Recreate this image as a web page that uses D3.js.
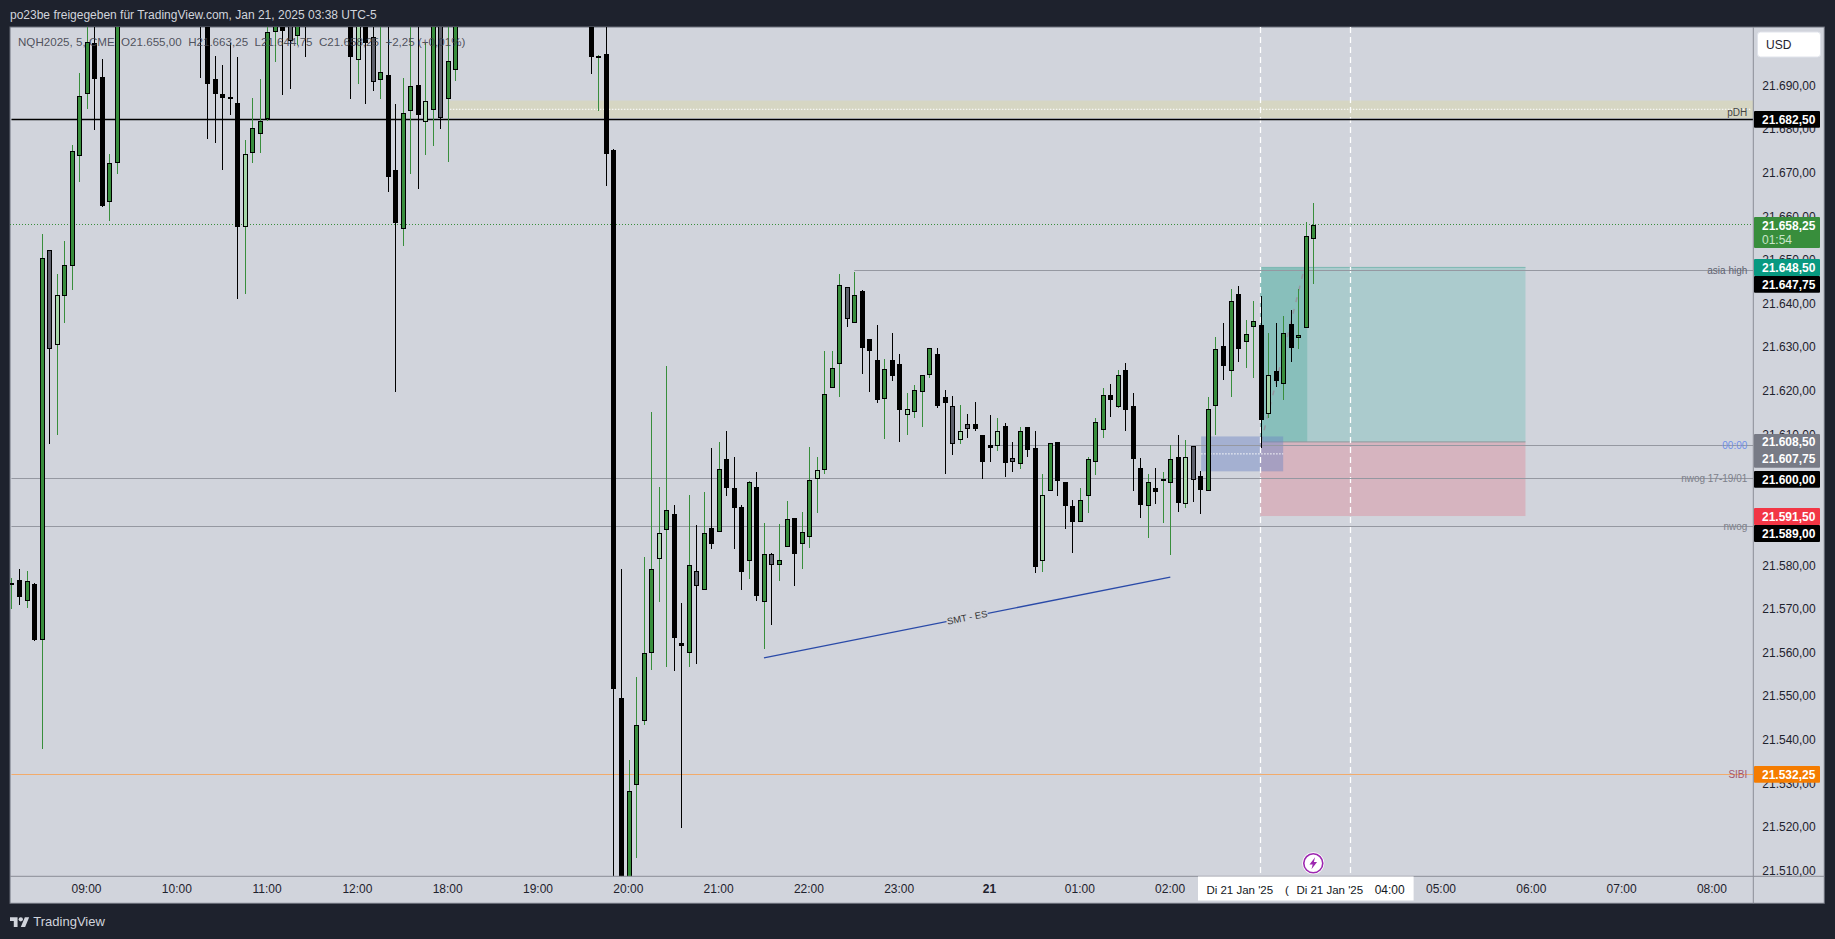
<!DOCTYPE html>
<html><head><meta charset="utf-8">
<script src="https://cdn.jsdelivr.net/npm/d3@7"></script>
<style>
html,body{margin:0;padding:0;background:#1e222d;overflow:hidden}
svg{display:block}
text{font-family:"Liberation Sans",Arial,sans-serif}
</style></head><body>
<svg id="c" width="1835" height="939"></svg>
<script>
// ---------- data: one entry per 5-minute bar, first bar is slot -10; null = bar outside the visible price range
const firstSlot = -10;
const opens = [
21576.25,21576.75,21572,21576,21563,21652.5,21630.75,21642,21648.75,21674,
21688.25,21700,21692.25,21663.5,21672.5,null,null,null,null,null,
null,null,null,null,null,21725,21715,21691.75,21688.25,21687.5,
21686.25,21657.75,21674.75,21679,21682.5,21702.5,21715,21712,21701.5,21722,
null,null,null,null,null,21715,21696,21712,21701.25,21691.5,
21692.5,21670.75,21657.25,21684.25,21690.25,21681.75,21684.5,21712,21687,21693.75,
null,null,null,null,null,null,null,null,null,null,
null,null,null,null,null,null,null,21712,21697,21697.5,
21675.5,21549.75,21500,21529.75,21544.5,21560,21581.75,21588.25,21592,21562.5,
21560,21579,21574.5,21588.75,21587.75,21604.5,21598,21593.5,21581.25,21598.25,
21571.75,21582.75,21580.25,21584.5,21591,21585,21586.75,21600,21602,21620.75,
21626.25,21644,21635.75,21643,21632,21627.25,21618.25,21627.25,21626.25,21614.75,
21615.25,21620,21623.75,21628.75,21618.75,21616.75,21609,21612.5,21612.5,21610,
21607.75,21607.5,21612.25,21604.75,21603.5,21612,21607,21581.25,21597.25,21608.5,
21599.25,21593.75,21590.25,21596,21604,21611.25,21619.25,21616.5,21625,21616.75,
21602.5,21593.75,21598,21599.5,21599,21605,21594.25,21607.5,21600.75,21597.25,
21616.75,21630.5,21624.75,21642.5,21631.5,21634.75,21635.25,21615,21624.75,21621.75,
21635.5,21632.25,21634.5,21655];
const closes = [
21576.25,21573,21576.5,21563,21650.75,21629.75,21642.25,21649,21675.25,21687.75,
21700.25,21691.75,21662.5,21672.5,21715,null,null,null,null,null,
null,null,null,null,null,21706,21690.5,21688.25,21687.25,21687,
21657.75,21674.5,21680.5,21682,21702.5,21712,21702.75,21700.5,21712,21710,
null,null,null,null,null,21696.75,21712,21700,21691,21693.25,
21669.25,21658.75,21684,21690,21683.5,21686.75,21712,21682.75,21695.75,21712,
null,null,null,null,null,null,null,null,null,null,
null,null,null,null,null,null,null,21696.75,21697,21674.5,
21551.75,21500,21528.5,21543.5,21560,21579.25,21587.5,21593,21563.5,21561.75,
21580.25,21575.5,21587.5,21585,21602.25,21598,21593.25,21578.75,21599.25,21573.25,
21582.75,21580.25,21581.5,21590.75,21582.75,21587.75,21599.75,21602,21619.5,21625.5,
21644.5,21636.75,21642.25,21630,21629.25,21618,21625.25,21623.5,21615.75,21616,
21620.5,21623.75,21630,21616.75,21617.5,21608,21611,21611.5,21611.5,21604,
21607,21611,21603.75,21604,21611,21606.75,21579.75,21596.25,21608.25,21599.5,
21593.75,21590.25,21595.25,21604.5,21613,21619.25,21618,21623.75,21615.75,21604.5,
21594,21599.25,21597,21600,21604.5,21594.5,21605,21599.75,21597.5,21616,
21629.75,21626,21640.75,21629.75,21633.25,21636.25,21613.5,21623.75,21622.5,21633.5,
21630,21633,21655.75,21658.25];
const highs = [
21577.25,21579.25,21579,21576.25,21656.25,21652.5,21647,21654.5,21676.5,21693,
21708,21708,21696.25,21674.5,21720,null,null,null,null,null,
null,null,null,null,null,21730,21720,21697,21695,21700,
21696.75,21677.75,21687.25,21691.75,21712,21716,21720,21716,21718,21725,
null,null,null,null,null,21720,21716,21716,21708,21708,
21708,21686,21692,21708,21708,21700,21716,21716,21708,21716,
null,null,null,null,null,null,null,null,null,null,
null,null,null,null,null,null,null,21716,21697.25,21712,
21675.75,21579.25,21535.5,21554.5,21582,21615.25,21598.25,21626,21594,21571.5,
21596.25,21589.5,21597,21607,21608.5,21611,21605,21594,21599.5,21601.5,
21590,21583,21589.75,21595,21591,21592.5,21607.25,21605,21629.25,21629.25,
21647,21644,21647.5,21643.25,21632,21635.25,21627.5,21633.5,21628.75,21619.75,
21621.5,21623.75,21630,21630,21620.5,21619,21617,21615,21617.75,21610,
21614.75,21614,21612.75,21608.5,21612,21612,21611,21601.25,21608.25,21608.5,
21599.25,21595.25,21598,21605,21614,21620.75,21621.75,21625,21626.5,21619.75,
21604.75,21601.25,21602.5,21601.5,21607.75,21610,21609,21607.5,21601.75,21618.75,
21632.5,21635.75,21643.5,21644.25,21636.5,21640.75,21642,21633.5,21635.75,21637.25,
21638.75,21643.5,21659,21663.25];
const lows = [
21570.25,21571,21570.5,21562.75,21538,21608,21610,21635.75,21643.25,21668,
21684.75,21680,21662.25,21659.25,21670,null,null,null,null,null,
null,null,null,null,null,21692,21678,21677,21670.75,21683.5,
21641.25,21642.5,21672.5,21674.75,21682,21695.5,21688,21689.5,21699.5,21696.75,
null,null,null,null,null,21687,21690.5,21686,21689,21687,
21665.75,21620,21653.5,21670,21666.5,21674.25,21676.25,21680.25,21672.75,21691.25,
null,null,null,null,null,null,null,null,null,null,
null,null,null,null,null,null,null,21692.75,21684.25,21667.25,
21500,21495,21495,21513,21543.5,21556.25,21571.75,21557,21556,21520,
21557,21557.5,21574.5,21584,21587.75,21596,21584,21574.5,21577,21572,
21561,21566.5,21576.5,21584.5,21575.5,21579.25,21584.25,21592.25,21601.25,21620.75,
21618.75,21634.75,21635.75,21624,21620,21617.5,21609.25,21622.5,21608.5,21610,
21614,21612,21623.25,21616.25,21601.25,21605.5,21608,21609.5,21611,21600,
21604,21606.5,21600.5,21601.5,21602.25,21605,21578.5,21578.75,21597.25,21596,
21588.5,21583,21590.25,21592.25,21601,21609.5,21614.25,21616.25,21611,21597.25,
21591,21586.5,21594.25,21590,21582.5,21592.5,21593.25,21594.75,21592,21597.25,
21610,21622.75,21618.75,21626.75,21625.5,21623.25,21607,21614,21621,21618,
21626.75,21629.75,21634.5,21644.75];
// g up, l light up, k down, s slate down
const shades = ("gkgkgslggg"+"gkkgg-----"+"-----kkkkk"+"klggggksgk"+"-----klksg"+"kkggklgsgg"+"----------"+"-------kgk"
 +"kkgggglgkk"+"gsgkgkkkgk"+"gsggkgglgg"+"gsgkkkgkkl"+"gggkkslskk"+"klksgkklgk"+"kkggggkgkk"+"kgkggklskg"+"gkgkggklkg"+"kggg").split("");

const priceTicks = [21690,21680,21670,21660,21650,21640,21630,21620,21610,21600,21590,21580,21570,21560,21550,21540,21530,21520,21510];
const timeSlots = [0,12,24,36,48,60,72,84,96,108,120,132,144,156,168,180,192,204,216];
const timeLabels = ["09:00","10:00","11:00","12:00","18:00","19:00","20:00","21:00","22:00","23:00","21","01:00","02:00","03:00","04:00","05:00","06:00","07:00","08:00"];

const levelPrices = [21682.5,21647.75,21607.75,21600,21589,21532.25];
const levelNames  = ["pDH","asia high","00:00","nwog 17-19/01","nwog","SIBI"];
const levelStarts = [-10,102,120,-10,-10,-10];

const zoneYellow = {from:48, top:21686.75, bottom:21682.75};
const blueBox = {from:148.1, to:159, top:21609.75, bottom:21601.75, mid:21605.75};
const position = {from:155.95, lastBar:162.2, to:191.2, target:21648.5, entry:21608.5, stop:21591.5};
const crosshairSlots = [156,168];
const smtSlots = [90,144];
const smtPrices = [21559,21577.5];
const lastPrice = 21658.25;

const tagPrices = [21682.5,21658.25,21648.5,21647.75,21608.5,21607.75,21600,21591.5,21589,21532.25];
const tagFills  = ["#000","#388e3c","#089981","#000","#787b86","#787b86","#000","#f23645","#000","#f57c00"];

// ---------- layout
const L=10, T=27, R=1753.3, B=876.3, RO=1824.3, BO=903.3;
const svg=d3.select("#c");
const x=d3.scaleLinear().domain([0,216]).range([86.7,1712.1]);
const y=d3.scaleLinear().domain([21682.5,21532.25]).range([119.1,774.5]);
const num=d3.formatLocale({decimal:",",thousands:".",grouping:[3],currency:["",""]}).format(",.2f");

svg.append("rect").attr("width",1835).attr("height",939).attr("fill","#1e222d");
svg.append("rect").attr("x",L).attr("y",T).attr("width",RO-L).attr("height",BO-T).attr("fill","#d1d4dc").attr("stroke","#6b6f7a").attr("stroke-width",1);

svg.append("defs").append("clipPath").attr("id","plot").append("rect").attr("x",L).attr("y",T).attr("width",R-L).attr("height",B-T);
const plot=svg.append("g").attr("clip-path","url(#plot)");

// yellow zone
plot.append("rect").attr("x",x(zoneYellow.from)).attr("y",y(zoneYellow.top)).attr("width",R-x(zoneYellow.from)).attr("height",y(zoneYellow.bottom)-y(zoneYellow.top)).attr("fill","#d6d6c3");
plot.append("line").attr("x1",x(zoneYellow.from)+2).attr("x2",R-3).attr("y1",y((zoneYellow.top+zoneYellow.bottom)/2)).attr("y2",y((zoneYellow.top+zoneYellow.bottom)/2)).attr("stroke","#fff").attr("stroke-width",1).attr("stroke-dasharray","1.5 1.5");

// position tool
const P=position;
plot.append("rect").attr("x",x(P.from)).attr("y",y(P.target)).attr("width",x(P.to)-x(P.from)).attr("height",y(P.entry)-y(P.target)).attr("fill","#abcbcd");
plot.append("rect").attr("x",x(P.from)).attr("y",y(P.target)).attr("width",x(P.lastBar)-x(P.from)).attr("height",y(P.entry)-y(P.target)).attr("fill","#88bfbb");
plot.append("rect").attr("x",x(P.from)).attr("y",y(P.entry)).attr("width",x(P.to)-x(P.from)).attr("height",y(P.stop)-y(P.entry)).attr("fill","#d6b4bf");
plot.append("line").attr("x1",x(P.from)).attr("x2",x(P.to)).attr("y1",y(P.entry)).attr("y2",y(P.entry)).attr("stroke","#8a9a9c").attr("stroke-width",1);
plot.append("line").attr("x1",x(P.from)).attr("x2",x(P.to)).attr("y1",y(P.target)).attr("y2",y(P.target)).attr("stroke","#7db8b2").attr("stroke-width",1);
plot.append("line").attr("x1",x(P.from)+1).attr("x2",x(P.lastBar)-3).attr("y1",y(P.entry)).attr("y2",y(P.target)+1).attr("stroke","#9598a1").attr("stroke-width",1.5).attr("stroke-dasharray","5 7");

// blue box
plot.append("rect").attr("x",x(blueBox.from)).attr("y",y(blueBox.top)).attr("width",x(blueBox.to)-x(blueBox.from)).attr("height",y(blueBox.bottom)-y(blueBox.top)).attr("fill","#6c85c4").attr("fill-opacity",.45);
plot.append("line").attr("x1",x(blueBox.from)).attr("x2",x(blueBox.to)).attr("y1",y(blueBox.mid)).attr("y2",y(blueBox.mid)).attr("stroke","#fff").attr("stroke-width",1).attr("stroke-dasharray","1.5 1.5");

// crosshair-like dashed verticals
plot.selectAll(".cross").data(crosshairSlots).join("line").attr("x1",d=>Math.floor(x(d))+.5).attr("x2",d=>Math.floor(x(d))+.5).attr("y1",T).attr("y2",B).attr("stroke","#fff").attr("stroke-width",1.3).attr("stroke-dasharray","6 4");

// last price dotted line
plot.append("line").attr("x1",L).attr("x2",R).attr("y1",Math.floor(y(lastPrice))+.5).attr("y2",Math.floor(y(lastPrice))+.5).attr("stroke","#388e3c").attr("stroke-width",1).attr("stroke-dasharray","1 2");

// level lines
const levelColors=["#000","#9598a1","#9598a1","#9598a1","#9598a1","#f2ab6b"];
levelPrices.forEach((p,i)=>{
  const yy=Math.floor(y(p))+.5;
  plot.append("line").attr("x1",x(levelStarts[i])).attr("x2",R).attr("y1",yy).attr("y2",yy).attr("stroke",levelColors[i]).attr("stroke-width",i==0?1.5:1);
});

// SMT line
plot.append("line").attr("x1",x(smtSlots[0])).attr("y1",y(smtPrices[0])).attr("x2",x(smtSlots[1])).attr("y2",y(smtPrices[1])).attr("stroke","#2a4aa8").attr("stroke-width",1.4);

// candles
const bars=opens.map((o,i)=>({slot:firstSlot+i,o,h:highs[i],l:lows[i],c:closes[i],s:shades[i]})).filter(d=>d.o!==null);
const fillOf={g:"#388e3c",l:"#a5d6a7",k:"#000",s:"#5d606b"};
const wickOf={g:"#388e3c",l:"#388e3c",k:"#000",s:"#000"};
const gb=plot.selectAll(".bar").data(bars).join("g");
gb.append("rect").attr("x",d=>Math.round(x(d.slot))).attr("width",1)
  .attr("y",d=>y(d.h)).attr("height",d=>Math.max(0,y(d.l)-y(d.h))).attr("fill",d=>wickOf[d.s]).attr("shape-rendering","crispEdges");
gb.append("rect").attr("x",d=>Math.round(x(d.slot))-1.5).attr("width",4)
  .attr("y",d=>Math.round(y(Math.max(d.o,d.c)))+.5)
  .attr("height",d=>Math.max(1,Math.round(y(Math.min(d.o,d.c)))-Math.round(y(Math.max(d.o,d.c)))-1))
  .attr("fill",d=>fillOf[d.s]).attr("stroke","#000").attr("stroke-width",1);

// SMT label
const smx=(x(smtSlots[0])+x(smtSlots[1]))/2, smy=(y(smtPrices[0])+y(smtPrices[1]))/2;
const ang=Math.atan2(y(smtPrices[1])-y(smtPrices[0]),x(smtSlots[1])-x(smtSlots[0]))*180/Math.PI;
const sg=plot.append("g").attr("transform",`translate(${smx},${smy}) rotate(${ang})`);
sg.append("rect").attr("x",-21).attr("y",-6).attr("width",42).attr("height",12).attr("fill","#d1d4dc");
sg.append("text").attr("text-anchor","middle").attr("dy",".35em").attr("font-size",9.5).attr("fill","#333").text("SMT - ES");

// level labels
const nameColors=["#444","#5f6370","#6f8fe8","#7d808a","#7d808a","#a5566e"];
levelNames.forEach((n,i)=>{
  const py=y(levelPrices[i])+(i==0?-7:0)+(i==1?-.5:0);
  const t=plot.append("text").attr("x",R-6).attr("y",py).attr("dy",".35em").attr("text-anchor","end").attr("font-size",10).attr("fill",nameColors[i]).text(n);
  if(i>0){const b=t.node().getBBox();t.lower();plot.insert("rect","text").attr("x",b.x-4).attr("y",b.y).attr("width",b.width+8).attr("height",b.height).attr("fill","#d1d4dc");}
});
plot.selectAll("text").raise();

// legend
svg.append("text").attr("x",18).attr("y",41.7).attr("dy",".35em").attr("font-size",11.6).attr("fill","#3e424d").attr("fill-opacity",.9).attr("xml:space","preserve")
  .text("NQH2025, 5, CME  O21.655,00  H21.663,25  L21.644,75  C21.658,25  +2,25 (+0,01%)");

// axes
svg.append("line").attr("x1",R).attr("x2",R).attr("y1",T).attr("y2",BO).attr("stroke","#8a8d96");
svg.append("line").attr("x1",L).attr("x2",RO).attr("y1",B).attr("y2",B).attr("stroke","#8a8d96");
const ay=svg.append("g").attr("transform",`translate(${R},-1)`).call(d3.axisRight(y).tickValues(priceTicks).tickSize(0).tickPadding(9).tickFormat(num));
ay.select(".domain").remove();
ay.selectAll("text").attr("font-size",12).attr("fill","#1e222d").attr("font-family","Liberation Sans");
const ax=svg.append("g").attr("transform",`translate(-0.7,${B})`).call(d3.axisBottom(x).tickValues(timeSlots).tickSize(0).tickPadding(8).tickFormat((d,i)=>timeLabels[i]));
ax.select(".domain").remove();
ax.selectAll("text").attr("font-size",12).attr("fill","#1e222d").attr("font-family","Liberation Sans").attr("font-weight",(d,i)=>timeLabels[i]==="21"?"bold":null);

// USD box
svg.append("rect").attr("x",1757.5).attr("y",32).attr("width",63).attr("height",25).attr("rx",3).attr("fill","#fff").attr("stroke","#e0e3eb");
svg.append("text").attr("x",1766).attr("y",44.5).attr("dy",".35em").attr("font-size",12).attr("fill","#1e222d").text("USD");

// price tags
const tagCentres=[119.3,225.5,267.5,284.3,442,458.7,479.3,516.5,533.5,774.3];
const tg=svg.append("g");
tagPrices.forEach((p,i)=>{
  const yc=tagCentres[i];
  if(i==1){
    tg.append("rect").attr("x",1754).attr("y",217).attr("width",66).attr("height",31).attr("rx",1).attr("fill",tagFills[i]);
    tg.append("text").attr("x",1762).attr("y",239.5).attr("dy",".35em").attr("font-size",12).attr("fill","#c8e6c9").text("01:54");
  } else if(i==4){
    tg.append("rect").attr("x",1754).attr("y",434).attr("width",66).attr("height",33.7).attr("rx",1).attr("fill",tagFills[i]);
  } else if(i!=5){
    tg.append("rect").attr("x",1754).attr("y",yc-8.4).attr("width",66).attr("height",16.8).attr("rx",1).attr("fill",tagFills[i]);
  }
});
tagPrices.forEach((p,i)=>{
  tg.append("text").attr("x",1762).attr("y",tagCentres[i]).attr("dy",".35em").attr("font-size",12).attr("font-weight","bold").attr("fill","#fff").text(num(p));
});

// crosshair date labels
svg.append("rect").attr("x",1198).attr("y",876.5).attr("width",215.6).attr("height",24).attr("fill","#fff");
svg.append("text").attr("x",1206.4).attr("y",890).attr("dy",".35em").attr("font-size",11.5).attr("fill","#131722").text("Di 21 Jan '25");
svg.append("text").attr("x",1285).attr("y",890).attr("dy",".35em").attr("font-size",11.5).attr("fill","#131722").text("(");
svg.append("text").attr("x",1296.4).attr("y",890).attr("dy",".35em").attr("font-size",11.5).attr("fill","#131722").text("Di 21 Jan '25");
svg.append("text").attr("x",1374.7).attr("y",890).attr("dy",".35em").attr("font-size",12).attr("fill","#131722").text("04:00");

// lightning icon
const ic=svg.append("g").attr("transform",`translate(${x(163)},863.3)`);
ic.append("circle").attr("r",11).attr("fill","#fff");
ic.append("circle").attr("r",9.5).attr("fill","#fff").attr("stroke","#9c27b0").attr("stroke-width",1.6);
ic.append("path").attr("d","M1.8,-6 L-3.8,1.2 H-0.6 L-1.8,6 L3.8,-1.2 H0.6 Z").attr("fill","#9c27b0");

// header + footer
svg.append("text").attr("x",10).attr("y",15).attr("dy",".35em").attr("font-size",12).attr("fill","#d1d4dc").text("po23be freigegeben für TradingView.com, Jan 21, 2025 03:38 UTC-5");
const logo=svg.append("g").attr("transform","translate(10,915) scale(.54)").attr("fill","#d1d4dc");
logo.append("path").attr("d","M14 22H7V11H0V4h14v18zM28 22h-8l7.5-18h8L28 22z");
logo.append("circle").attr("cx",20).attr("cy",8).attr("r",4);
svg.append("text").attr("x",33.3).attr("y",921.7).attr("dy",".35em").attr("font-size",13).attr("fill","#d1d4dc").text("TradingView");
</script>
</body></html>
